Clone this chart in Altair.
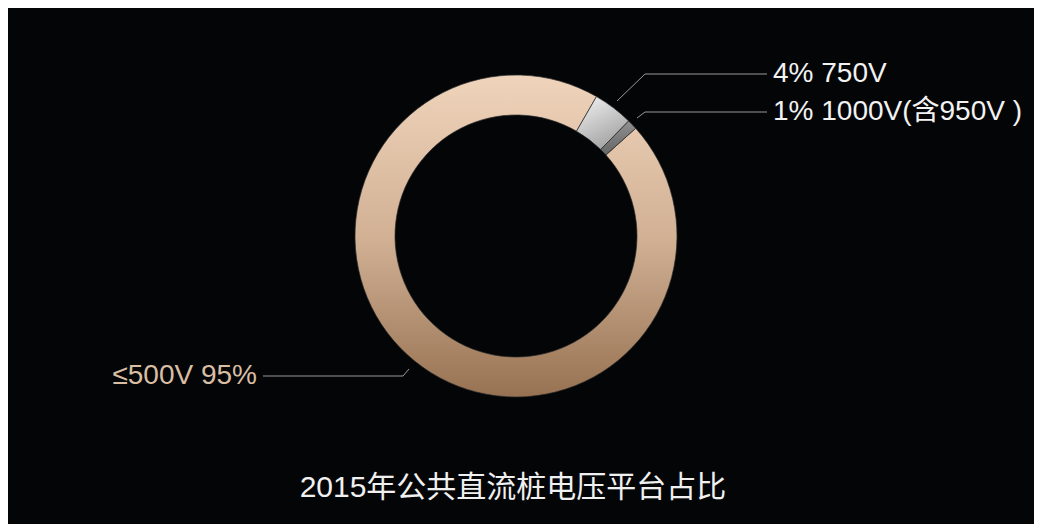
import math
import altair as alt
import pandas as pd

# ---- data ----
categories = ["≤500V", "750V", "1000V(含950V )"]
shares = [95, 4, 1]
order_idx = [0, 1, 2]
title_text = "2015年公共直流桩电压平台占比"

df = pd.DataFrame({"label": categories, "share": shares, "idx": order_idx})

FONT = "Liberation Sans, 'Noto Sans CJK SC', sans-serif"
W, H = 1026, 516
CX, CY = 508, 228
START = math.radians(48)

grad_beige = {
    "gradient": "linear", "x1": 0, "y1": 0, "x2": 0, "y2": 1,
    "stops": [
        {"offset": 0, "color": "#EFD4BB"},
        {"offset": 0.5, "color": "#D2B195"},
        {"offset": 1, "color": "#977252"},
    ],
}
grad_white = {
    "gradient": "linear", "x1": 0, "y1": 0, "x2": 0.5, "y2": 1,
    "stops": [
        {"offset": 0, "color": "#F4F4F4"},
        {"offset": 1, "color": "#A4A4A4"},
    ],
}
grad_gray = {
    "gradient": "linear", "x1": 0, "y1": 0, "x2": 0, "y2": 1,
    "stops": [
        {"offset": 0, "color": "#909090"},
        {"offset": 1, "color": "#666666"},
    ],
}

donut = alt.Chart(df).mark_arc(
    outerRadius=161, innerRadius=121, stroke="#2a2a2a", strokeWidth=0.7
).encode(
    theta=alt.Theta("share:Q", stack=True,
                    scale=alt.Scale(domain=[0, 100], range=[START, START + 2 * math.pi])),
    order=alt.Order("idx:Q"),
    fill={
        "condition": [
            {"test": f"datum.label === '{categories[1]}'", "value": grad_white},
            {"test": f"datum.label === '{categories[2]}'", "value": grad_gray},
        ],
        "value": grad_beige,
    },
    x=alt.value(CX),
    y=alt.value(CY),
)

def seg(x1, y1, x2, y2):
    return alt.Chart(pd.DataFrame({"a": [0]})).mark_rule(
        color="#9a9a9a", strokeWidth=1
    ).encode(x=alt.value(x1), y=alt.value(y1), x2=alt.value(x2), y2=alt.value(y2))

leaders = [
    seg(609, 93, 637, 66), seg(637, 66, 759, 66),
    seg(629, 110, 637, 104), seg(637, 104, 759, 104),
    seg(401, 361, 395, 368), seg(395, 368, 255, 368),
]

def label(text, x, y, align, color, size=28):
    return alt.Chart(pd.DataFrame({"t": [text]})).mark_text(
        align=align, baseline="middle", font=FONT, fontSize=size, color=color
    ).encode(text="t:N", x=alt.value(x), y=alt.value(y))

texts = [
    label(f"{shares[1]}% {categories[1]}", 765, 66, "left", "#F2F2F2"),
    label(f"{shares[2]}% {categories[2]}", 765, 104, "left", "#F2F2F2"),
    label(f"{categories[0]} {shares[0]}%", 249, 368, "right", "#D9BEA4"),
    label(title_text, 505, 480, "center", "#F0F0F0", size=30),
]

chart = alt.layer(donut, *leaders, *texts).properties(
    width=W, height=H,
    autosize=alt.AutoSizeParams(type="none"),
    padding=0,
    background="#040507",
).configure_view(stroke=None)

chart.save("out.html", embed_options={"renderer": "svg", "actions": False})
